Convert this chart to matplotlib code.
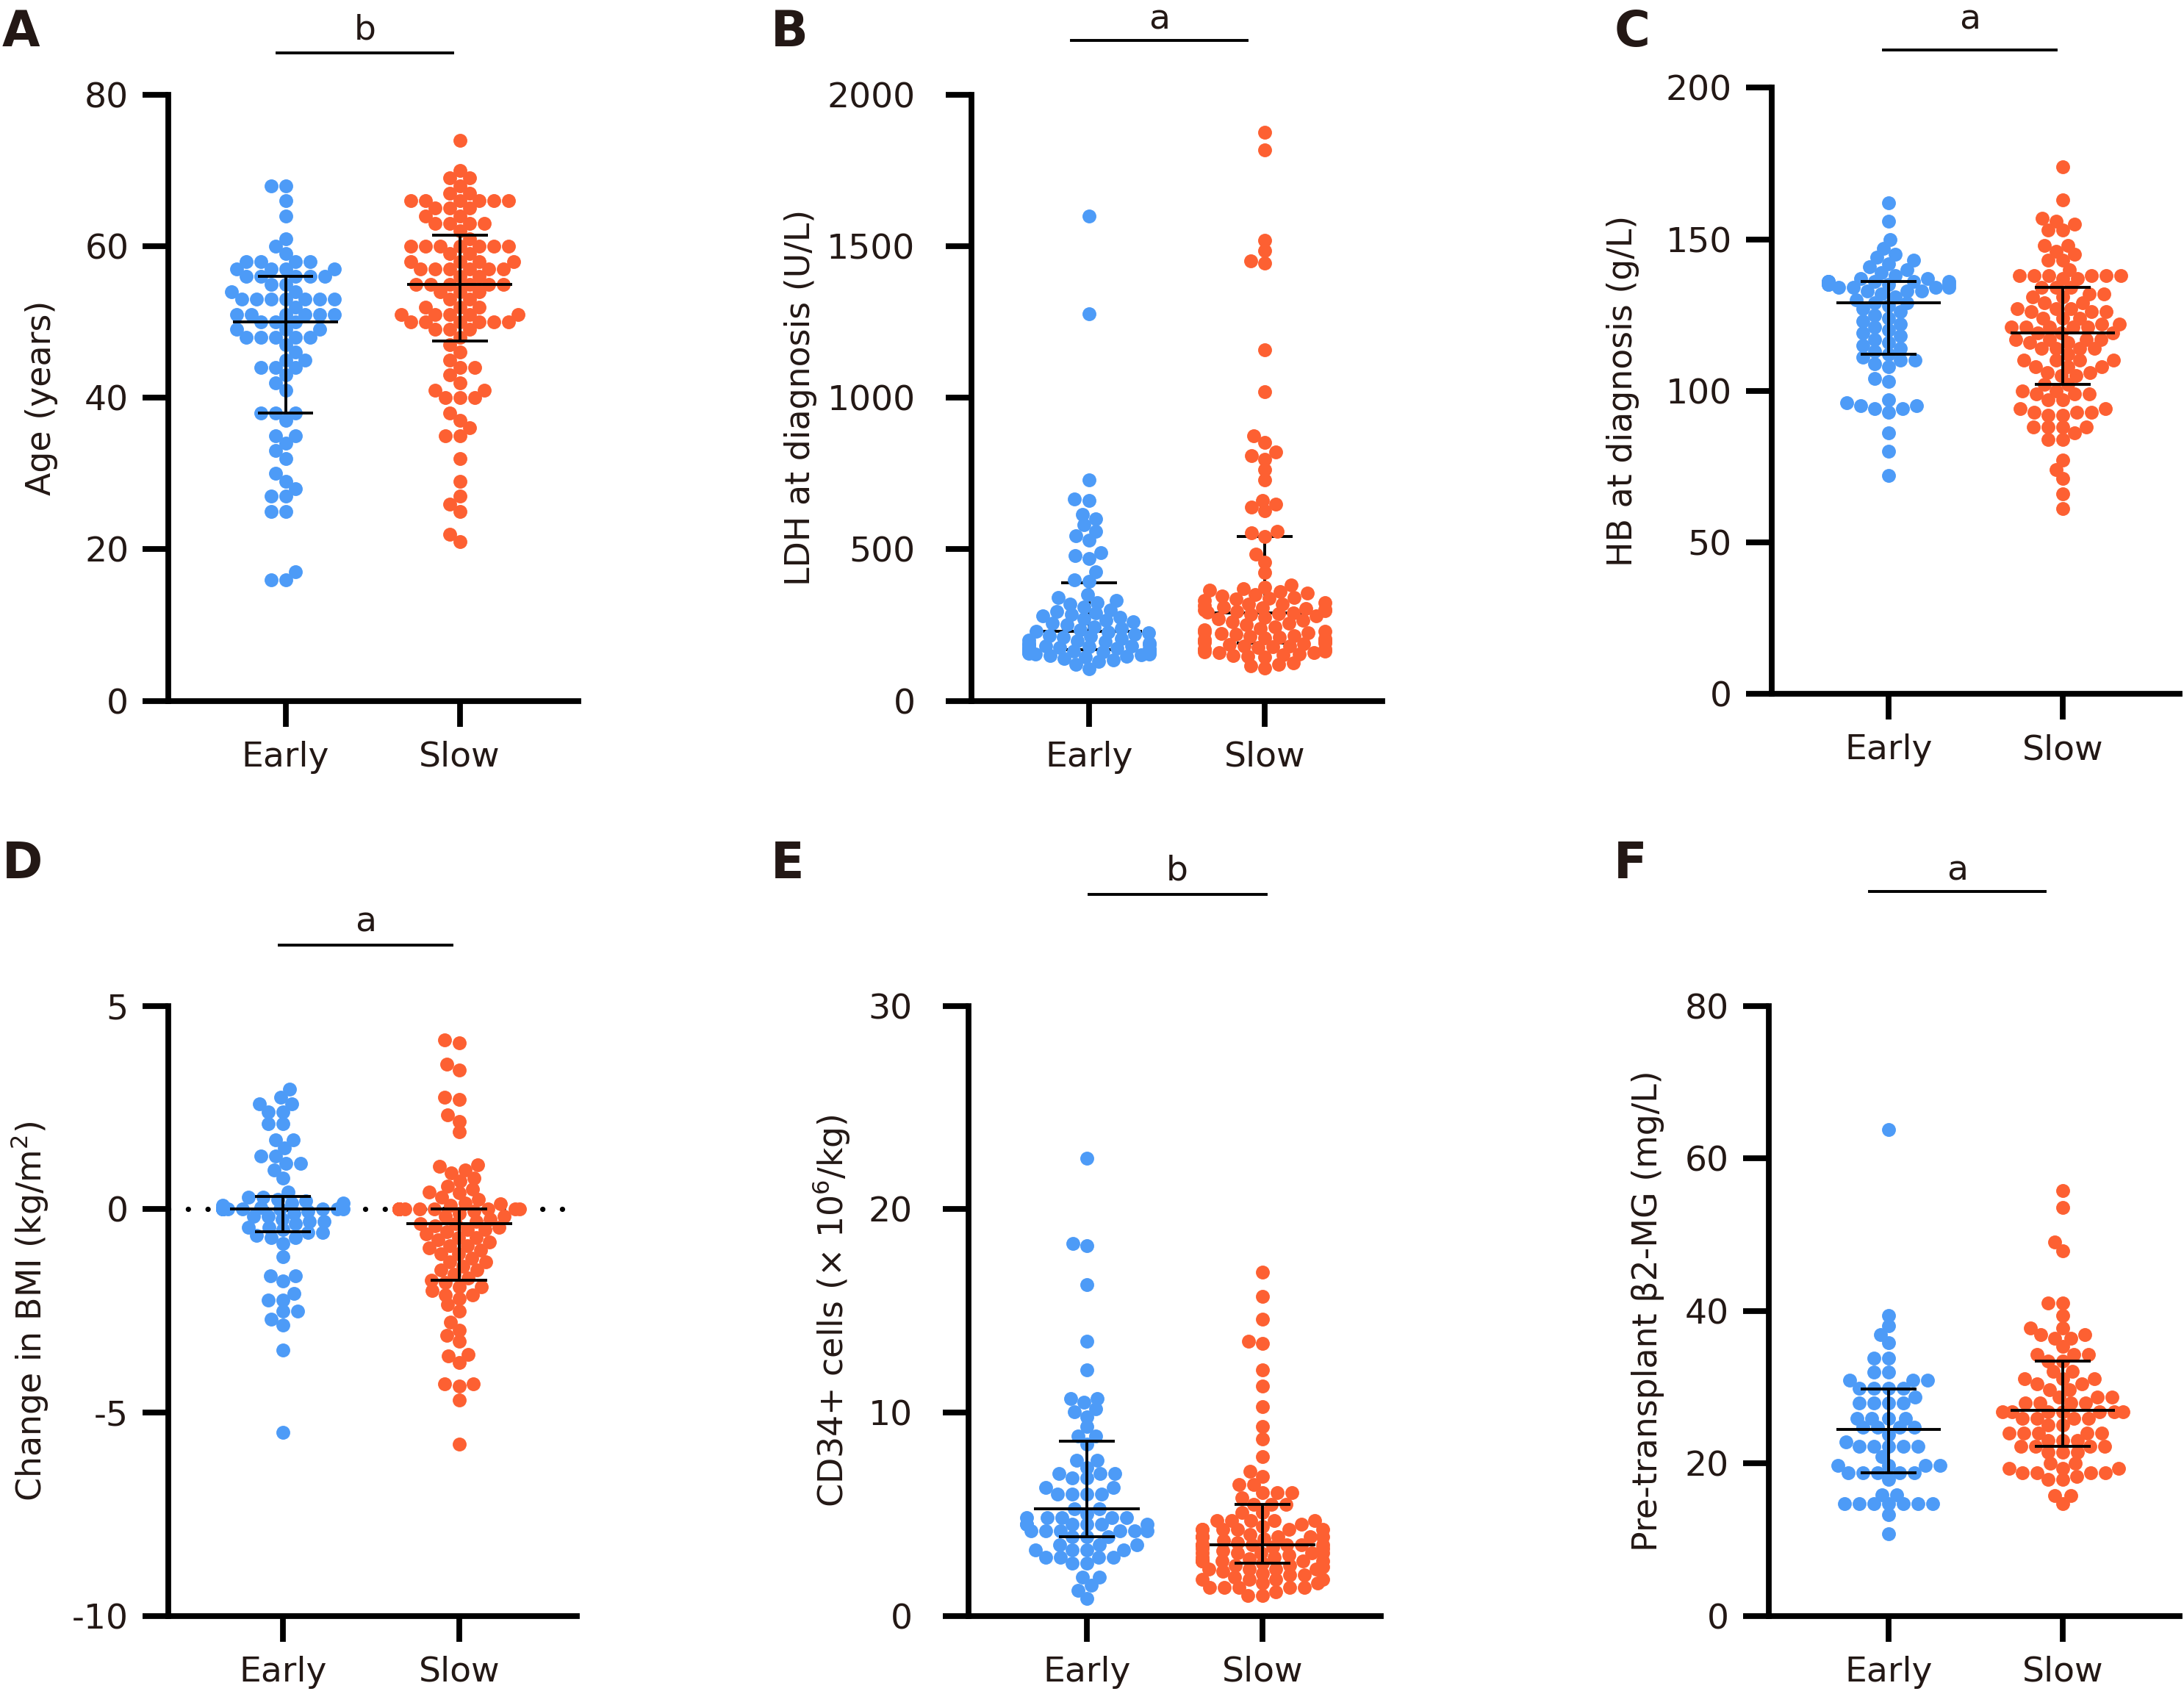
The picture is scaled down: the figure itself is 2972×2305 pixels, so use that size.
import matplotlib
matplotlib.use("Agg")
import matplotlib.pyplot as plt
import numpy as np

plt.rcParams["font.family"] = ["DejaVu Sans"]
plt.rcParams["mathtext.fontset"] = "dejavusans"
plt.rcParams["axes.unicode_minus"] = False

TEXT = "#231815"
BLUE = "#4d9bf7"
ORANGE = "#fd6032"
groups = ["Early", "Slow"]

# --- A: age (years)
age_early = [68, 68, 66, 64, 61, 60, 59, 58, 58, 58, 58, 57, 57, 57, 57, 56, 56, 56, 56, 56,
             55, 55, 54, 54, 53, 53, 53, 53, 53, 53, 53, 52, 51, 51, 51, 51, 51, 51, 50, 50,
             50, 49, 49, 49, 48, 48, 48, 48, 48, 47, 46, 45, 45, 44, 44, 44, 43, 42, 41, 38,
             38, 38, 37, 35, 35, 34, 33, 32, 30, 29, 28, 27, 27, 25, 25, 17, 16, 16]
age_slow = [74, 70, 69, 69, 68, 67, 67, 66, 66, 66, 66, 66, 66, 65, 65, 65, 64, 64, 63, 63,
            63, 63, 62, 61, 60, 60, 60, 60, 60, 60, 60, 59, 59, 58, 58, 58, 58, 57, 57, 57,
            57, 57, 57, 56, 56, 55, 55, 55, 55, 55, 55, 54, 54, 54, 53, 53, 52, 52, 52, 51,
            51, 51, 51, 51, 50, 50, 50, 50, 50, 50, 49, 49, 49, 48, 47, 46, 45, 44, 44, 43,
            42, 41, 41, 40, 40, 40, 38, 37, 36, 35, 35, 32, 29, 27, 26, 25, 22, 21]

# --- B: LDH at diagnosis (U/L)
ldh_early = [1600, 1278, 730, 665, 660, 615, 600, 580, 560, 545, 530, 490, 480, 470, 425, 400,
             395, 350, 340, 330, 325, 320, 310, 300, 295, 290, 285, 280, 275, 270, 265, 260,
             255, 250, 245, 240, 235, 230, 228, 225, 220, 215, 212, 210, 205, 200, 198, 195,
             190, 188, 185, 185, 182, 180, 178, 176, 175, 173, 172, 170, 168, 168, 166, 165,
             163, 162, 160, 158, 157, 155, 153, 152, 150, 148, 145, 140, 135, 130, 120, 105]
ldh_slow = [1876, 1817, 1520, 1486, 1452, 1445, 1158, 1019, 874, 852, 820, 810, 798, 764, 730,
            662, 650, 640, 628, 560, 555, 543, 484, 458, 424, 382, 375, 370, 365, 360, 355,
            350, 345, 340, 338, 335, 330, 325, 320, 318, 315, 310, 308, 305, 302, 300, 298,
            295, 292, 290, 288, 285, 280, 275, 270, 265, 260, 255, 250, 245, 240, 235, 230,
            228, 225, 222, 220, 215, 212, 210, 208, 205, 202, 200, 198, 195, 192, 190, 188,
            185, 182, 180, 178, 175, 172, 170, 168, 165, 162, 160, 158, 155, 152, 150, 148,
            145, 125, 120, 115, 108]

# --- C: HB at diagnosis (g/L)
hb_early = [162, 156, 150, 147, 145, 144, 143, 142, 141, 140, 139, 138, 137, 137, 136, 136,
            136, 136, 136, 136, 135, 135, 135, 135, 134, 134, 134, 134, 133, 133, 133, 132,
            131, 130, 129, 129, 128, 127, 126, 125, 124, 123, 122, 121, 120, 119, 118, 117,
            116, 115, 114, 113, 112, 111, 110, 110, 109, 108, 104, 103, 97, 96, 95, 95, 94,
            94, 93, 86, 80, 72]
hb_slow = [174, 163, 157, 156, 155, 153, 153, 148, 148, 146, 145, 143, 143, 140, 138, 138,
           138, 138, 138, 138, 137, 137, 134, 134, 134, 132, 132, 131, 131, 129, 129, 127,
           127, 127, 126, 126, 126, 124, 124, 124, 122, 122, 121, 121, 121, 121, 121, 119,
           119, 119, 117, 117, 117, 117, 116, 116, 114, 114, 114, 114, 112, 110, 110, 110,
           110, 108, 108, 108, 106, 106, 105, 105, 102, 102, 100, 100, 99, 99, 99, 97, 97,
           94, 94, 93, 93, 93, 92, 92, 88, 88, 88, 88, 86, 84, 84, 77, 74, 71, 66, 61]

# --- D: change in BMI (kg/m2)
bmi_early = [2.96, 2.76, 2.6, 2.6, 2.4, 2.4, 2.1, 2.1, 1.7, 1.7, 1.5, 1.3, 1.3, 1.12, 1.12,
             0.96, 0.76, 0.43, 0.3, 0.3, 0.25, 0.2, 0.16, 0.16, 0.1, 0.05,
             0, 0, 0, 0, 0, 0, 0, 0, 0, 0, 0, 0,
             -0.05, -0.1, -0.17, -0.17, -0.25, -0.3, -0.3, -0.36, -0.44, -0.44, -0.5, -0.57,
             -0.57, -0.65, -0.7, -0.7, -0.84, -1.17, -1.64, -1.64, -1.77, -2.08, -2.24, -2.24,
             -2.5, -2.5, -2.7, -2.84, -3.47, -5.48]
bmi_slow = [4.16, 4.1, 3.56, 3.43, 2.76, 2.7, 2.32, 2.16, 1.9, 1.1, 1.05, 0.96, 0.9, 0.76,
            0.7, 0.56, 0.5, 0.43, 0.4, 0.3, 0.25, 0.16, 0.14, 0.1,
            0, 0, 0, 0, 0, 0, 0, 0, 0, 0, 0, 0, 0, 0,
            -0.05, -0.1, -0.17, -0.17, -0.25, -0.3, -0.35, -0.35, -0.4, -0.45, -0.5, -0.5,
            -0.55, -0.6, -0.7, -0.7, -0.75, -0.8, -0.9, -0.9, -0.95, -1.0, -1.1, -1.1, -1.2,
            -1.3, -1.3, -1.4, -1.5, -1.5, -1.6, -1.7, -1.75, -1.8, -1.9, -1.9, -2.0, -2.1,
            -2.1, -2.2, -2.35, -2.5, -2.77, -2.97, -3.1, -3.24, -3.57, -3.6, -3.77, -4.3,
            -4.3, -4.35, -4.7, -5.77]

# --- E: CD34+ cells (x10^6/kg)
cd34_early = [22.5, 18.2, 18.3, 16.3, 13.5, 12.1, 10.7, 10.7, 10.5, 10.2, 10.05, 9.8, 9.3,
              8.85, 8.85, 8.45, 7.65, 7.65, 7.3, 7.0, 7.0, 7.0, 6.8, 6.8, 6.3, 6.3, 6.0, 6.0,
              6.0, 6.0, 5.25, 5.25, 5.0, 4.85, 4.85, 4.85, 4.85, 4.85, 4.5, 4.5, 4.5, 4.5,
              4.5, 4.5, 4.2, 4.2, 4.2, 4.2, 4.2, 4.2, 3.9, 3.9, 3.9, 3.5, 3.5, 3.5, 3.25,
              3.25, 3.25, 3.25, 2.9, 2.9, 2.9, 2.9, 2.6, 2.6, 1.9, 1.9, 1.5, 1.25, 0.85]
cd34_slow = [16.9, 15.7, 14.6, 13.5, 13.4, 12.1, 11.3, 10.3, 9.3, 8.7, 7.85, 7.1, 6.85, 6.45,
             6.45, 6.05, 6.05, 6.05, 5.8, 5.5, 5.5, 5.5, 5.1, 5.1, 4.7, 4.7, 4.7, 4.7, 4.7,
             4.5, 4.4, 4.25, 4.25, 4.25, 4.25, 4.25, 4.25, 4.0, 3.9, 3.9, 3.9, 3.9, 3.9, 3.9,
             3.8, 3.7, 3.6, 3.5, 3.5, 3.5, 3.5, 3.5, 3.5, 3.5, 3.4, 3.3, 3.3, 3.2, 3.1, 3.1,
             3.1, 3.1, 3.1, 3.0, 2.9, 2.9, 2.8, 2.7, 2.7, 2.7, 2.7, 2.7, 2.7, 2.6, 2.5, 2.5,
             2.4, 2.3, 2.3, 2.3, 2.3, 2.2, 2.1, 2.0, 2.0, 1.9, 1.8, 1.8, 1.8, 1.8, 1.6, 1.6,
             1.4, 1.4, 1.4, 1.4, 1.4, 1.2, 1.0, 1.0]

# --- F: pre-transplant beta2-MG (mg/L)
b2mg_early = [63.8, 39.4, 38, 36.9, 35.8, 33.8, 33.8, 32, 32, 30.9, 30.9, 30.9, 29.9, 29.9,
              29.9, 29.9, 28.7, 27.9, 27.9, 27.9, 27.9, 25.9, 25.9, 25.9, 25.9, 24.7, 24.7,
              24.7, 24.7, 23.8, 22.8, 22.2, 22.2, 22.2, 22.2, 22.2, 20.9, 19.7, 19.7, 19.7,
              19.7, 18.8, 18.8, 18.8, 18.8, 18.8, 17.9, 15.9, 15.9, 14.7, 14.7, 14.7, 14.7,
              14.7, 14.7, 14.7, 13.3, 10.8]
b2mg_slow = [55.8, 53.6, 49, 47.9, 41, 41, 39.4, 37.8, 37.8, 36.9, 36.9, 36.4, 36.4, 35.3,
             34.3, 34.3, 34.3, 33.4, 33.4, 32.1, 32.1, 31.1, 31.1, 31.1, 30.4, 30.4, 29.7,
             29.7, 28.7, 28.7, 28.7, 27.9, 27.9, 27.9, 27.9, 26.8, 26.8, 26.8, 26.8, 26.8,
             26.8, 26.8, 25.9, 25.9, 25.9, 25.9, 25, 25, 24, 24, 24, 24, 24, 23, 23, 23,
             22.2, 22.2, 22.2, 22.2, 21.5, 21.5, 21.5, 20, 20, 19.3, 19.3, 19.3, 18.8, 18.8,
             18.8, 18.8, 18.3, 17.9, 17.9, 15.8, 15.8, 14.7]

# median, Q1, Q3: [early, slow]
medians = [[50, 55], [229, 289], [129, 119], [0, -0.35], [5.25, 3.5], [24.5, 27]]
q1s = [[38, 47.5], [168, 190], [112, 102], [-0.55, -1.75], [3.9, 2.6], [18.8, 22.2]]
q3s = [[56, 61.5], [390, 543], [136, 134], [0.32, 0], [8.6, 5.5], [29.8, 33.4]]

panel_letters = ["A", "B", "C", "D", "E", "F"]
sig_letters = ["b", "a", "a", "a", "b", "a"]
ylabels = ["Age (years)", "LDH at diagnosis (U/L)", "HB at diagnosis (g/L)",
           "Change in BMI (kg/m$^{2}$)", "CD34+ cells (× 10$^{6}$/kg)",
           "Pre-transplant β2-MG (mg/L)"]
yticks = [[0, 20, 40, 60, 80], [0, 500, 1000, 1500, 2000], [0, 50, 100, 150, 200],
          [-10, -5, 0, 5], [0, 10, 20, 30], [0, 20, 40, 60, 80]]
series = [(age_early, age_slow), (ldh_early, ldh_slow), (hb_early, hb_slow),
          (bmi_early, bmi_slow), (cd34_early, cd34_slow), (b2mg_early, b2mg_slow)]

# layout (figure fractions)
FIG_W, FIG_H, DPI = 2972, 2305, 200
axes_rect = [
    [0.0772, 0.5863, 0.1877, 0.3578],
    [0.4448, 0.5863, 0.1881, 0.3578],
    [0.8112, 0.5905, 0.1869, 0.3577],
    [0.0770, 0.0461, 0.1871, 0.3601],
    [0.4435, 0.0461, 0.1888, 0.3601],
    [0.8099, 0.0461, 0.1882, 0.3601],
]
xlims = [(-0.671, 1.682), (-0.669, 1.668), (-0.673, 1.673),
         (-0.652, 1.668), (-0.674, 1.674), (-0.688, 1.672)]
ylabel_x = [-0.31, -0.415, -0.365, -0.34, -0.333, -0.295]
ytick_pad = [7, 15, 7, 7, 15, 7]
lines_on_top = [True, False, True, True, True, True]
bracket = [  # x0, x1 (data), y line, y text (axes fraction)
    (-0.05, 0.96, 1.069, 1.106),
    (-0.10, 0.90, 1.090, 1.124),
    (-0.03, 0.96, 1.062, 1.112),
    (-0.02, 0.96, 1.100, 1.137),
    (0.01, 1.02, 1.183, 1.221),
    (-0.11, 0.90, 1.187, 1.221),
]
letter_pos = [(0.001, 0.981), (0.353, 0.981), (0.739, 0.981),
              (0.001, 0.490), (0.353, 0.490), (0.739, 0.490)]

DOT_PT = 6.8
SEP_PX = 20.0       # centre distance for dots on the same level
Y_STRETCH = 1.45    # dots on nearby levels may overlap a bit vertically
MAX_HALF_PX = 82.0  # widest half-swarm, extra dots are pushed to the edge


def swarm_offsets(values, ylim, h_px, w_px, xlim):
    """Beeswarm offsets (in data units) with an elliptical spacing rule."""
    vals = np.asarray(values, dtype=float)
    ypx = (vals - ylim[0]) / (ylim[1] - ylim[0]) * h_px * Y_STRETCH
    order = np.argsort(ypx, kind="stable")
    placed_x, placed_y = [], []
    off = np.zeros(len(vals))
    for k in order:
        y = ypx[k]
        px = np.array(placed_x)
        py = np.array(placed_y)
        near = np.abs(py - y) < SEP_PX if len(py) else np.array([], dtype=bool)
        nx, ny = px[near], py[near]
        cands = [0.0]
        for xj, yj in zip(nx, ny):
            dx = np.sqrt(SEP_PX ** 2 - (yj - y) ** 2)
            cands += [xj + dx, xj - dx]
        cands = sorted(cands, key=lambda c: (abs(c), c))
        best = cands[-1]
        for c in cands:
            if np.all((nx - c) ** 2 + (ny - y) ** 2 >= SEP_PX ** 2 - 1e-6):
                best = c
                break
        best = float(np.clip(best, -MAX_HALF_PX, MAX_HALF_PX))
        off[k] = best
        placed_x.append(best)
        placed_y.append(y)
    return off * (xlim[1] - xlim[0]) / w_px


fig = plt.figure(figsize=(FIG_W / DPI, FIG_H / DPI), dpi=DPI)

for i in range(6):
    ax = fig.add_axes(axes_rect[i])
    w_px = axes_rect[i][2] * FIG_W
    h_px = axes_rect[i][3] * FIG_H
    ylim = (yticks[i][0], yticks[i][-1])
    zl = 5 if lines_on_top[i] else 1.5

    if i == 3:
        ax.axhline(0, color="black", lw=2.6, ls=(0, (0.01, 3.7)),
                   dash_capstyle="round", zorder=1)

    for g, color in enumerate([BLUE, ORANGE]):
        vals = series[i][g]
        xs = g + swarm_offsets(vals, ylim, h_px, w_px, xlims[i])
        ax.scatter(xs, vals, s=DOT_PT ** 2, color=color, linewidths=0, zorder=2)

        ax.hlines(medians[i][g], g - 0.30, g + 0.30, color="black", lw=1.4, zorder=zl)
        ax.hlines([q1s[i][g], q3s[i][g]], g - 0.16, g + 0.16, color="black",
                  lw=1.4, zorder=zl)
        ax.vlines(g, q1s[i][g], q3s[i][g], color="black", lw=1.4, zorder=zl)

    ax.set_xlim(*xlims[i])
    ax.set_ylim(*ylim)
    ax.set_yticks(yticks[i])
    ax.set_xticks([0, 1])
    ax.set_xticklabels(groups)

    for side in ["top", "right"]:
        ax.spines[side].set_visible(False)
    for side in ["left", "bottom"]:
        ax.spines[side].set_linewidth(2.8)
        ax.spines[side].set_color("black")
    ax.tick_params(axis="both", length=12.5, width=2.8, color="black",
                   labelsize=17, labelcolor=TEXT, pad=7)
    ax.tick_params(axis="y", pad=ytick_pad[i])
    ax.text(ylabel_x[i], 0.5, ylabels[i], transform=ax.transAxes, rotation=90,
            ha="center", va="center", fontsize=16.5, color=TEXT)

    x0, x1, yl, yt = bracket[i]
    trans = ax.get_xaxis_transform()
    ax.plot([x0, x1], [yl, yl], color="black", lw=1.4, transform=trans, clip_on=False)
    ax.text((x0 + x1) / 2, yt, sig_letters[i], transform=trans, ha="center",
            va="center", fontsize=17, color=TEXT)

    fig.text(letter_pos[i][0], letter_pos[i][1], panel_letters[i], ha="left",
             va="center", fontsize=24, fontweight="bold", color=TEXT)

fig.savefig("out.png", dpi=DPI, facecolor="white")
